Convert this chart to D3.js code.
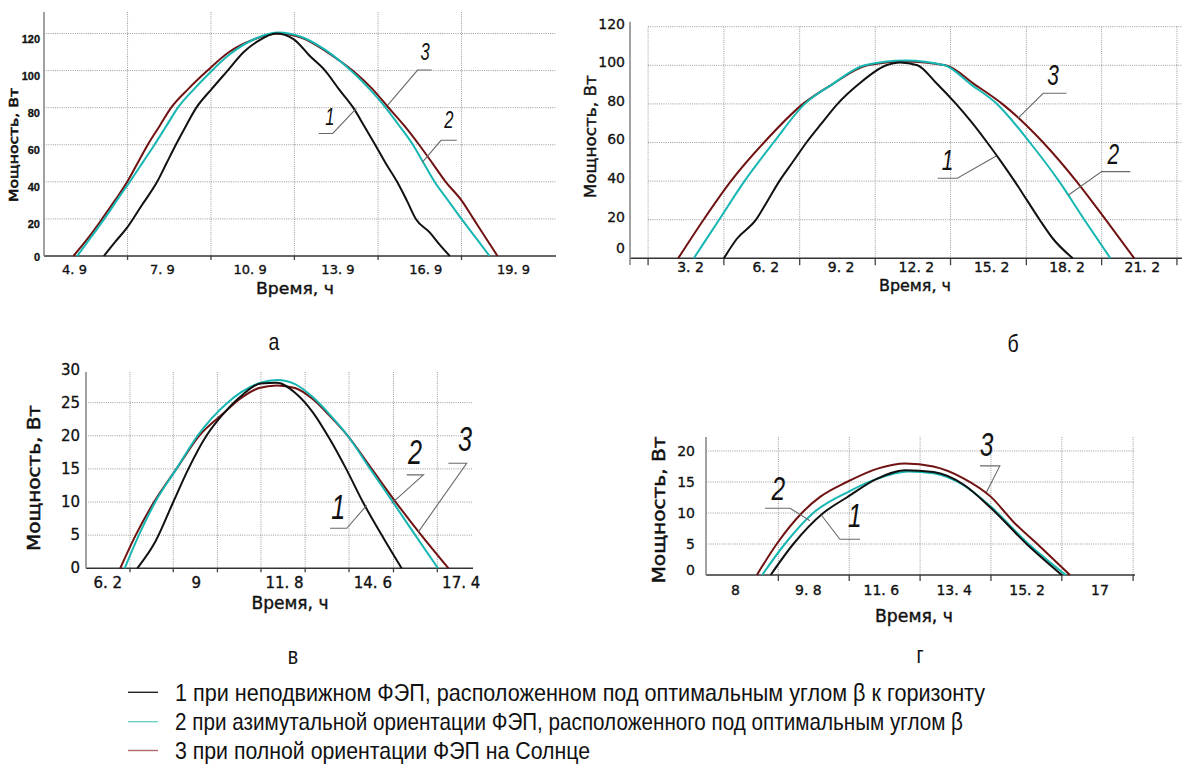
<!DOCTYPE html>
<html><head><meta charset="utf-8">
<script src="https://cdn.jsdelivr.net/npm/d3@7"></script>
<style>body{margin:0;background:#fff}svg{display:block}</style>
</head><body><svg id="c" width="1182" height="767"></svg>
<script>
// ================= DATA =================
// Panel а
const aXTicks = [4.9, 7.9, 10.9, 13.9, 16.9, 19.9];
const aYTicks = [0, 20, 40, 60, 80, 100, 120];
const aGridX  = [6.73, 9.58, 12.43, 15.29, 18.14];
const aGridY  = [20, 40, 60, 80, 100, 120];
const aFixed   = [[5.92,0],[6.3,7.5],[6.7,15],[7.2,27],[7.74,40],[8.06,50],[8.38,60],[8.72,70],[9.08,80],[9.6,90],[10.15,100],[10.7,110],[11.2,116],[11.8,120],[12.4,117],[12.95,108],[13.48,100],[13.95,90],[14.44,80],[14.82,70],[15.19,60],[15.55,50],[15.94,40],[16.27,30],[16.58,20],[17.06,12.6],[17.4,6],[17.74,0]];
const aAzimuth = [[5.01,0],[5.5,10.5],[6.0,21.5],[6.45,32],[6.85,41],[7.25,50.5],[7.65,60],[8.05,70],[8.45,80],[9.0,90],[9.55,99],[10.2,108.5],[11.0,116.5],[11.85,120.5],[12.7,118],[13.5,111],[14.0,105],[14.5,98],[15.0,90],[15.5,81],[16.0,70.5],[16.48,60],[16.85,50],[17.22,40],[17.68,30],[18.14,20],[18.62,10],[19.1,0]];
const aFull    = [[4.88,0],[5.4,10],[5.86,20],[6.3,30],[6.72,40],[7.07,50],[7.42,60],[7.82,70],[8.22,80],[8.8,90],[9.46,100],[10.2,110],[11.0,116.5],[11.87,120],[12.7,117.5],[13.5,110.5],[14.0,105],[14.5,99],[15.1,90],[15.62,80.5],[16.2,70],[16.69,60],[17.15,50],[17.6,40],[18.14,30],[18.55,20],[18.96,10],[19.37,0]];
const aNotes = [
  {label:"3", at:[16.9,110.2], leader:[[17.12,100.3],[16.64,100.3],[15.62,81.4]]},
  {label:"1", at:[13.64,75],   leader:[[13.26,66.1],[13.74,66.1],[14.55,79.6]]},
  {label:"2", at:[17.71,73.2], leader:[[17.98,62.4],[17.44,62.4],[16.8,50.5]]}
];
// Panel б
const bXTicks = [3.2, 6.2, 9.2, 12.2, 15.2, 18.2, 21.2];
const bYTicks = [0, 20, 40, 60, 80, 100, 120];
const bGridX  = [1.53, 4.55, 7.57, 10.58, 13.58, 16.6, 19.6, 22.6];
const bGridY  = [20, 40, 60, 80, 100, 120];
const bFixed   = [[4.55,0],[5.06,10],[5.83,20],[6.3,30],[6.76,40],[7.3,50],[7.84,60],[8.45,70],[9.08,80],[9.9,90],[11.02,100],[11.56,101.5],[12.26,100],[13.0,91],[13.8,80],[14.45,70],[15.04,60],[15.6,50],[16.13,40],[16.63,30],[17.13,20],[17.67,10],[18.45,0]];
const bAzimuth = [[3.35,0],[4.36,20],[5.37,40],[6.53,60],[7.77,80],[8.85,90],[10.16,100],[11.77,102.5],[13.34,100],[14.4,90],[15.43,80],[16.74,60],[17.9,40],[18.91,20],[19.95,0]];
const bFull    = [[2.73,0],[3.74,20],[4.83,40],[6.15,60],[7.7,80],[8.85,90],[10.27,100],[11.75,102],[13.38,100],[14.55,90],[15.64,80],[17.27,60],[18.59,40],[19.76,20],[20.9,0]];
const bNotes = [
  {label:"3", at:[17.66,95],   leader:[[18.2,85.5],[17.27,85.5],[16.26,72.5]]},
  {label:"1", at:[13.46,50.9], leader:[[13.07,41.5],[13.85,41.5],[15.4,53]]},
  {label:"2", at:[20.07,54.4], leader:[[20.74,44.9],[19.6,44.9],[18.28,32.8]]}
];
// Panel в
const cXTicks = [6.2, 9, 11.8, 14.6, 17.4];
const cYTicks = [0, 5, 10, 15, 20, 25, 30];
const cGridX  = [6.92, 8.29, 9.69, 11.07, 12.47, 13.86, 15.27, 16.66];
const cGridY  = [5, 10, 15, 20, 25];
const cFixed   = [[7.15,0],[7.72,4],[8.29,10],[8.77,15],[9.34,20],[9.91,23.5],[10.49,26.2],[11.06,27.9],[11.58,28],[12.15,26.5],[12.72,23.5],[13.25,19.5],[13.77,15],[14.3,10],[14.96,4.5],[15.53,0]];
const cAzimuth = [[6.75,0],[7.2,5],[7.72,10],[8.39,15],[9.06,20],[10.01,25],[11.06,28],[11.58,28.4],[12.15,27.8],[12.72,25.8],[13.25,23.2],[13.82,20],[14.53,15],[15.25,10],[15.96,5],[16.68,0]];
const cFull    = [[6.61,0],[7.1,5],[7.68,10],[8.39,15],[9.11,20],[9.91,23.5],[10.39,25.5],[11.01,27.2],[11.58,27.6],[12.15,27.2],[12.72,25.5],[13.25,23],[13.82,20],[14.58,15],[15.34,10],[16.15,5],[17.01,0]];
const cNotes = [
  {label:"1", at:[13.52,9.3],  leader:[[13.26,6.04],[13.79,6.04],[14.42,9.5]]},
  {label:"2", at:[15.95,17.6], leader:[[15.69,14.1],[16.22,14.1],[15.21,9.8]]},
  {label:"3", at:[17.54,19.6], leader:[[17.01,15.85],[17.59,15.85],[16.06,5.5]]}
];
// Panel г
const dXTicks = [8, 9.8, 11.6, 13.4, 15.2, 17];
const dYTicks = [0, 5, 10, 15, 20];
const dGridX  = [9.07, 10.82, 12.57, 14.32, 16.07, 17.83];
const dGridY  = [5, 10, 15, 20];
const dFixed   = [[8.88,0],[9.44,5],[10.18,10],[10.76,12.5],[11.5,15.5],[12.2,16.9],[12.9,16.6],[13.64,14.6],[14.32,10.8],[15.2,5],[16.07,0]];
const dAzimuth = [[8.67,0],[9.23,5],[9.93,10],[10.82,13.5],[11.5,15.5],[12.28,16.7],[12.9,16.4],[13.64,14.5],[14.32,11],[15.2,5.3],[16.17,0]];
const dFull    = [[8.54,0],[9.03,5],[9.65,10],[10.1,12.6],[10.76,15],[11.54,17.2],[12.2,18],[12.9,17.5],[13.64,15.6],[14.32,12.6],[14.87,8.6],[15.53,4.6],[16.27,0]];
const dNotes = [
  {label:"2", at:[9.07,14],   leader:[[8.74,10.76],[9.36,10.76],[9.85,8.76]]},
  {label:"1", at:[10.96,9.7], leader:[[11.09,5.76],[10.59,5.76],[10.14,9.6]]},
  {label:"3", at:[14.21,21.2], leader:[[14.05,17.6],[14.54,17.6],[14.21,13.4]]}
];
// Texts
const yTitle = "Мощность, Вт";
const xTitle = "Время, ч";
const panelLetters = ["а", "б", "в", "г"];
const legendLabels = [
  "1 при неподвижном ФЭП, расположенном под оптимальным углом β к горизонту",
  "2 при азимутальной ориентации ФЭП, расположенного под оптимальным углом β",
  "3 при полной ориентации ФЭП на Солнце"
];

// ================= STYLE / LAYOUT =================
const COL = {fixed:"#111111", azimuth:"#16b6b2", full:"#701212"};
const LEG = {fixed:"#222222", azimuth:"#6ccfc8", full:"#b06a6a"};
const svg = d3.select("#c");

function fmtTick(v){ return Number.isInteger(v) ? String(v) : String(v).replace(".", ". "); }
function squeeze(sel, sx){
  sel.each(function(){
    const t = d3.select(this); const x = +t.attr("x") || 0; const y = +t.attr("y") || 0;
    t.attr("transform", `translate(${x},${y}) scale(${sx},1) translate(${-x},${-y})`);
  });
}
function embolden(sel, w){ sel.attr("stroke", "#111").attr("stroke-width", w).attr("paint-order", "stroke"); }

function drawPanel(p){
  const g = svg.append("g");
  const x = d3.scaleLinear().domain(p.xDomain).range(p.xRange);
  const y = d3.scaleLinear().domain(p.yDomain).range(p.yRange);
  const base = y(0);
  const left = p.gridLeft;
  g.append("g").selectAll("line").data(p.gridY).join("line")
    .attr("x1", left).attr("x2", p.right).attr("y1", d=>y(d)).attr("y2", d=>y(d))
    .attr("stroke", "#9a9a9a").attr("stroke-width", 1).attr("stroke-dasharray", "1,1.2");
  g.append("g").selectAll("line").data(p.gridX).join("line")
    .attr("x1", d=>x(d)).attr("x2", d=>x(d)).attr("y1", p.top).attr("y2", base)
    .attr("stroke", "#9a9a9a").attr("stroke-width", 1).attr("stroke-dasharray", "1,1.2");
  g.append("g").selectAll("line").data(p.gridX).join("line")
    .attr("x1", d=>x(d)).attr("x2", d=>x(d)).attr("y1", base).attr("y2", base + p.tick)
    .attr("stroke", "#444").attr("stroke-width", 1.3);
  g.append("line").attr("x1", p.axisX).attr("x2", p.right).attr("y1", base).attr("y2", base)
    .attr("stroke", "#333").attr("stroke-width", 1.6);
  g.append("line").attr("x1", p.axisX).attr("x2", p.axisX).attr("y1", p.axisTop).attr("y2", p.axisBottom)
    .attr("stroke", "#8a8a8a").attr("stroke-width", 1.6);
  const ax = g.append("g").attr("transform", `translate(0,${p.xLabelY})`)
    .call(d3.axisBottom(x).tickValues(p.xTicks).tickFormat(fmtTick).tickSize(0).tickPadding(0));
  ax.select(".domain").remove();
  ax.attr("font-family", p.tickFont).attr("font-size", p.xFs);
  ax.selectAll("text").attr("dy", "0.36em").attr("fill", "#111").call(embolden, 0.35);
  const ay = g.append("g").attr("transform", `translate(${p.yLabelX},0)`)
    .call(d3.axisLeft(y).tickValues(p.yTicks).tickFormat(d3.format("d")).tickSize(0).tickPadding(0));
  ay.select(".domain").remove();
  ay.attr("font-family", p.yTickFont || p.tickFont).attr("font-size", p.yFs).attr("font-weight", p.yWeight || "normal");
  ay.selectAll("text").attr("y", d => d === 0 ? p.zeroDy : p.labDy).attr("fill", "#111").call(embolden, 0.3);
  g.append("text").text(yTitle)
    .attr("transform", `translate(${p.yTitle[0]},${p.yTitle[1]}) rotate(-90)`)
    .attr("text-anchor", "middle").attr("dominant-baseline", "central")
    .attr("font-family", "DejaVu Sans").attr("font-size", p.yTitleFs).attr("fill", "#111")
    .attr("textLength", p.yTitleLen).attr("lengthAdjust", "spacingAndGlyphs").call(embolden, p.titleStroke);
  g.append("text").text(xTitle)
    .attr("x", p.xTitle[0]).attr("y", p.xTitle[1])
    .attr("text-anchor", "middle").attr("dominant-baseline", "central")
    .attr("font-family", "DejaVu Sans").attr("font-size", p.xTitleFs).attr("fill", "#111")
    .attr("textLength", p.xTitleLen).attr("lengthAdjust", "spacingAndGlyphs").call(embolden, 0.4);
  const line = d3.line().x(d=>x(d[0])).y(d=>y(d[1])).curve(d3.curveMonotoneX);
  [["full", p.full], ["azimuth", p.azimuth], ["fixed", p.fixed]].forEach(([k, data]) => {
    g.append("path").datum(data).attr("d", line).attr("fill", "none")
      .attr("stroke", COL[k]).attr("stroke-width", p.lw).attr("stroke-linejoin", "round");
  });
  const leader = d3.line().x(d=>x(d[0])).y(d=>y(d[1]));
  p.notes.forEach(n => {
    g.append("path").datum(n.leader).attr("d", leader).attr("fill", "none")
      .attr("stroke", "#6a6a6a").attr("stroke-width", 1.1);
    const t = g.append("text").text(n.label)
      .attr("x", x(n.at[0])).attr("y", y(n.at[1]))
      .attr("text-anchor", "middle").attr("dominant-baseline", "central")
      .attr("font-family", "Liberation Sans").attr("font-style", "italic")
      .attr("font-size", p.noteFs).attr("fill", "#111");
    squeeze(t, 0.72);
  });
}

drawPanel({xDomain:[4.9,19.9], xRange:[74,513], yDomain:[0,120], yRange:[256,33.5],
  axisX:44, axisTop:12, axisBottom:256, gridLeft:44, right:556, top:12, tick:4,
  xTicks:aXTicks, yTicks:aYTicks, gridX:aGridX, gridY:aGridY,
  xLabelY:269, yLabelX:40, labDy:5, zeroDy:1,
  tickFont:"DejaVu Sans", yTickFont:"Liberation Sans", yWeight:"bold", xFs:13, yFs:11,
  yTitle:[13.5,145], yTitleLen:114, yTitleFs:12, titleStroke:0.6, xTitle:[295,288], xTitleLen:78, xTitleFs:16,
  fixed:aFixed, azimuth:aAzimuth, full:aFull, notes:aNotes, noteFs:23, lw:2});

drawPanel({xDomain:[3.2,21.2], xRange:[690,1141.8], yDomain:[0,120], yRange:[258.3,26.7],
  axisX:630, axisTop:21.7, axisBottom:265, gridLeft:648, right:1182, top:26.7, tick:7,
  xTicks:bXTicks, yTicks:bYTicks, gridX:bGridX, gridY:bGridY,
  xLabelY:267, yLabelX:625, labDy:-3, zeroDy:-10,
  tickFont:"DejaVu Sans", xFs:14, yFs:14,
  yTitle:[591,136.7], yTitleLen:123, yTitleFs:15, titleStroke:0.4, xTitle:[915,285], xTitleLen:72, xTitleFs:16,
  fixed:bFixed, azimuth:bAzimuth, full:bFull, notes:bNotes, noteFs:29, lw:2});

drawPanel({xDomain:[6.2,17.4], xRange:[107.3,460.7], yDomain:[0,30], yRange:[568.3,369.5],
  axisX:86, axisTop:372, axisBottom:568.3, gridLeft:86, right:473, top:372, tick:4,
  xTicks:cXTicks, yTicks:cYTicks, gridX:cGridX, gridY:cGridY,
  xLabelY:583, yLabelX:80, labDy:0, zeroDy:-1,
  tickFont:"DejaVu Sans", xFs:15, yFs:15,
  yTitle:[33,478], yTitleLen:146, yTitleFs:18, titleStroke:0.5, xTitle:[290,603.3], xTitleLen:77, xTitleFs:17,
  fixed:cFixed, azimuth:cAzimuth, full:cFull, notes:cNotes, noteFs:35, lw:2});

drawPanel({xDomain:[8,17], xRange:[735,1099.5], yDomain:[0,20], yRange:[575,451],
  axisX:706, axisTop:437, axisBottom:575, gridLeft:706, right:1135, top:437, tick:6,
  xTicks:dXTicks, yTicks:dYTicks, gridX:dGridX, gridY:dGridY,
  xLabelY:590, yLabelX:695, labDy:0, zeroDy:-5,
  tickFont:"DejaVu Sans", xFs:14, yFs:14,
  yTitle:[658.3,510], yTitleLen:147, yTitleFs:18, titleStroke:0.5, xTitle:[914,616], xTitleLen:78, xTitleFs:17,
  fixed:dFixed, azimuth:dAzimuth, full:dFull, notes:dNotes, noteFs:34, lw:2});

// panel letters
const letterPos = [[274,342],[1013,344],[293,656],[920,655]];
svg.append("g").selectAll("text").data(panelLetters).join("text")
  .text(d=>d).attr("x", (d,i)=>letterPos[i][0]).attr("y", (d,i)=>letterPos[i][1])
  .attr("text-anchor", "middle").attr("dominant-baseline", "central")
  .attr("font-family", "Liberation Sans").attr("font-size", 23).attr("fill", "#111")
  .call(squeeze, 0.85);

// legend
const legKeys = ["fixed", "azimuth", "full"];
const legY = [692.3, 721.7, 750.5];
const legWidths = [810, 788, 415];
const lg = svg.append("g");
lg.selectAll("line").data(legKeys).join("line")
  .attr("x1", 128).attr("x2", 158).attr("y1", (d,i)=>legY[i]).attr("y2", (d,i)=>legY[i])
  .attr("stroke", d=>LEG[d]).attr("stroke-width", 1.4);
lg.selectAll("text").data(legendLabels).join("text")
  .text(d=>d).attr("x", 175).attr("y", (d,i)=>legY[i])
  .attr("dominant-baseline", "central")
  .attr("font-family", "Liberation Sans").attr("font-size", 24).attr("fill", "#111")
  .attr("textLength", (d,i)=>legWidths[i]).attr("lengthAdjust", "spacingAndGlyphs");
</script></body></html>
